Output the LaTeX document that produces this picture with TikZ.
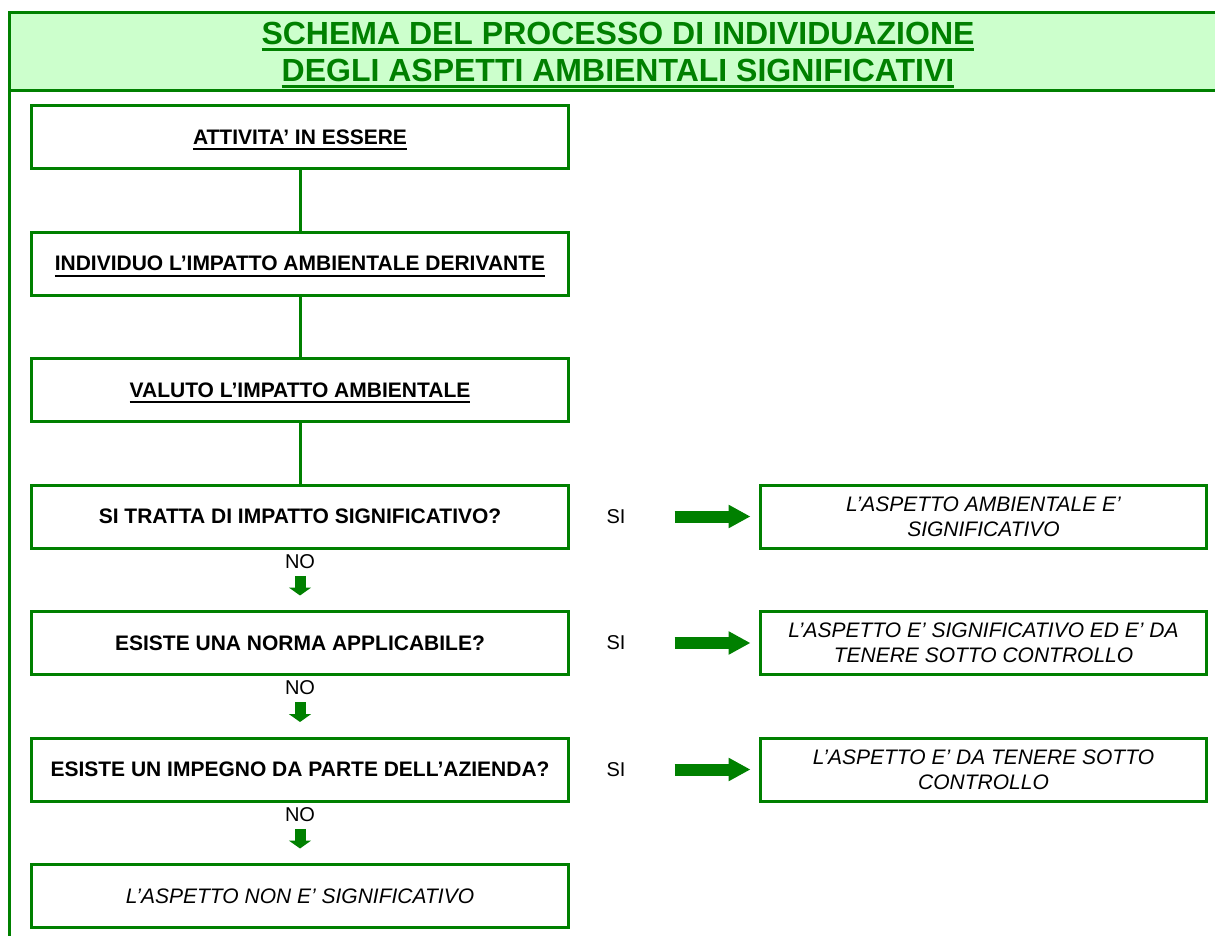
\documentclass[tikz,border=0pt]{standalone}
\usepackage{fontspec}
\setmainfont{Liberation Sans}
\usetikzlibrary{arrows.meta}
\definecolor{dgreen}{HTML}{008000}
\definecolor{lgreen}{HTML}{CCFFCC}
% underlined box: #1 = rule offset, #2 = rule thickness, #3 = text
\newcommand\ulbox[3]{\setbox0\hbox{#3}\rlap{\raisebox{#1}[0pt][0pt]{\rule{\wd0}{#2}}}\box0}
\newcommand\bul[1]{\ulbox{-6pt}{2pt}{#1}}
\begin{document}
\begin{tikzpicture}[x=1pt,y=-1pt,
  flowbox/.style={draw=dgreen,line width=3pt,minimum width=537pt,minimum height=63pt,inner sep=0pt,
    font=\fontsize{21}{25}\selectfont,text=black},
  outbox/.style={draw=dgreen,line width=3pt,minimum width=446pt,minimum height=63pt,inner sep=0pt,
    align=center,font=\fontsize{21}{25}\selectfont\itshape,text=black},
  lbl/.style={inner sep=0pt,font=\fontsize{20}{24}\selectfont,text=black},
  titletxt/.style={inner sep=0pt,anchor=base,text=dgreen,font=\fontsize{32}{37}\selectfont\bfseries},
  conn/.style={draw=dgreen,line width=3pt},
  smallarrow/.style={draw=dgreen,line width=11pt,-{Triangle[width=22pt,length=8pt,fill=dgreen]}},
  bigarrow/.style={draw=dgreen,line width=12pt,-{Triangle[width=22pt,length=22pt,fill=dgreen]}}
]
\useasboundingbox (0,0) rectangle (1215,936);
% header band and frame
\path[fill=lgreen] (9.5,12.5) rectangle (1240,90.5);
\draw[conn] (1240,12.5) -- (9.5,12.5) -- (9.5,950);
\draw[conn] (9.5,90.5) -- (1240,90.5);
\node[titletxt] (t1) at (618,45) {\ulbox{-6pt}{3pt}{SCHEMA DEL PROCESSO DI INDIVIDUAZIONE}};
\node[titletxt] (t2) at (618,82) {\ulbox{-6pt}{3pt}{DEGLI ASPETTI AMBIENTALI SIGNIFICATIVI}};
% main column
\node[flowbox] (b1) at (300,137) {\bfseries\bul{ATTIVITA’ IN ESSERE}};
\node[flowbox] (b2) at (300,263.5) {\bfseries\bul{INDIVIDUO L’IMPATTO AMBIENTALE DERIVANTE}};
\node[flowbox] (b3) at (300,390) {\bfseries\bul{VALUTO L’IMPATTO AMBIENTALE}};
\node[flowbox] (b4) at (300,516.5) {\bfseries SI TRATTA DI IMPATTO SIGNIFICATIVO?};
\node[flowbox] (b5) at (300,643) {\bfseries ESISTE UNA NORMA APPLICABILE?};
\node[flowbox] (b6) at (300,769.5) {\bfseries ESISTE UN IMPEGNO DA PARTE DELL’AZIENDA?};
\node[flowbox] (b7) at (300,896) {\itshape L’ASPETTO NON E’ SIGNIFICATIVO};
\draw[conn] (b1) -- (b2);
\draw[conn] (b2) -- (b3);
\draw[conn] (b3) -- (b4);
% NO labels and arrows
\node[lbl] (no1) at (300,561.5) {NO};
\node[lbl] (no2) at (300,688) {NO};
\node[lbl] (no3) at (300,814.5) {NO};
\draw[smallarrow] ([yshift=-7pt]no1.south) -- ([yshift=14.5pt]b5.north);
\draw[smallarrow] ([yshift=-7pt]no2.south) -- ([yshift=14.5pt]b6.north);
\draw[smallarrow] ([yshift=-7pt]no3.south) -- ([yshift=14.5pt]b7.north);
% SI branch
\node[lbl] (si1) at (616,516.5) {SI};
\node[lbl] (si2) at (616,643) {SI};
\node[lbl] (si3) at (616,769.5) {SI};
\node[outbox] (r1) at (983.5,516.5) {L’ASPETTO AMBIENTALE E’\\SIGNIFICATIVO};
\node[outbox] (r2) at (983.5,643) {L’ASPETTO E’ SIGNIFICATIVO ED E’ DA\\TENERE SOTTO CONTROLLO};
\node[outbox] (r3) at (983.5,769.5) {L’ASPETTO E’ DA TENERE SOTTO\\CONTROLLO};
\draw[bigarrow] ([xshift=49pt]si1.east) -- ([xshift=-8.5pt]r1.west);
\draw[bigarrow] ([xshift=49pt]si2.east) -- ([xshift=-8.5pt]r2.west);
\draw[bigarrow] ([xshift=49pt]si3.east) -- ([xshift=-8.5pt]r3.west);
\end{tikzpicture}
\end{document}
